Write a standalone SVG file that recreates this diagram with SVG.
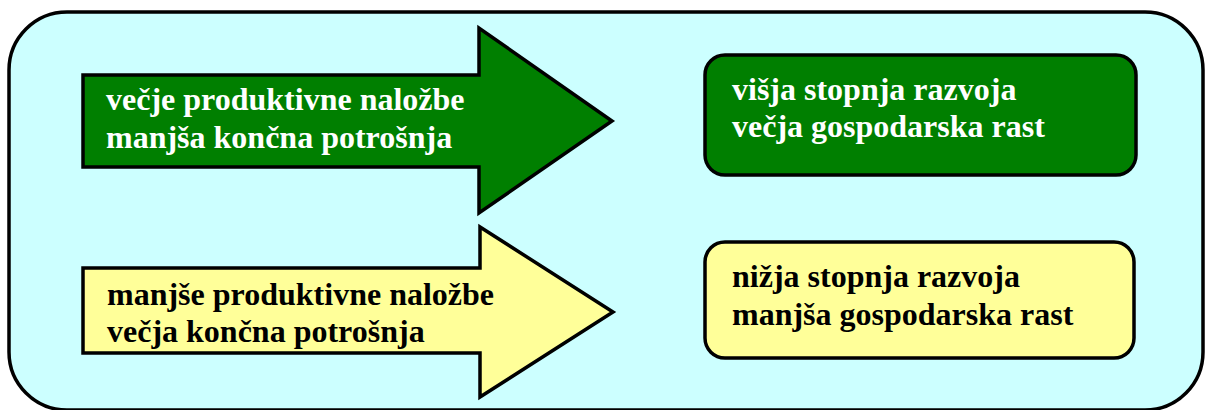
<svg xmlns="http://www.w3.org/2000/svg" width="1205" height="410" viewBox="0 0 1205 410">
<style>
.frame{fill:#CCFFFF;stroke:#000;stroke-width:3.5}
.shape{stroke:#000;stroke-width:3.5;stroke-linejoin:miter}
.green{fill:#007F00}
.yellow{fill:#FFFF99}
.t{font-family:"Liberation Serif","Times New Roman",serif;font-weight:bold;font-size:32px}
.tw{fill:#FFFFFF}
.tb{fill:#000000}
</style>
<rect class="frame" x="9" y="12" width="1194" height="398" rx="58" ry="58"/>
<g id="arrow-top">
<polygon class="shape green" points="83,75 479,75 479,28 612,121 479,213 479,167 83,167"/>
<text class="t tw" x="106" y="110">večje produktivne naložbe</text>
<text class="t tw" x="106" y="148">manjša končna potrošnja</text>
</g>
<g id="arrow-bottom">
<polygon class="shape yellow" points="83,268 480,268 480,227 613,312 480,397 480,353 83,353"/>
<text class="t tb" x="107" y="305">manjše produktivne naložbe</text>
<text class="t tb" x="107" y="342">večja končna potrošnja</text>
</g>
<g id="box-top">
<rect class="shape green" x="705" y="55" width="431" height="120" rx="20" ry="20"/>
<text class="t tw" x="732" y="100">višja stopnja razvoja</text>
<text class="t tw" x="732" y="137">večja gospodarska rast</text>
</g>
<g id="box-bottom">
<rect class="shape yellow" x="705" y="242" width="429" height="116" rx="20" ry="20"/>
<text class="t tb" x="732" y="287">nižja stopnja razvoja</text>
<text class="t tb" x="732" y="325">manjša gospodarska rast</text>
</g>
<g id="connectors"></g>
</svg>
